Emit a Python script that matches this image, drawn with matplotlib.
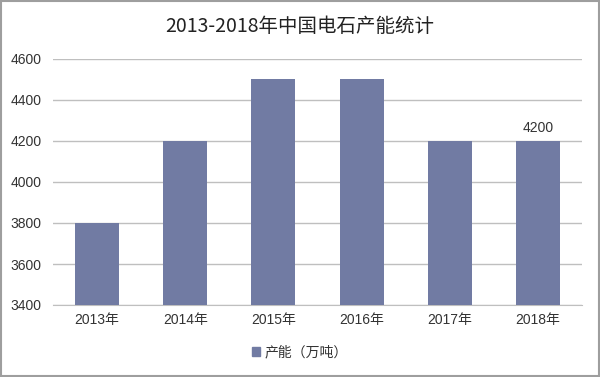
import matplotlib
matplotlib.use("Agg")
import matplotlib.pyplot as plt
from matplotlib.patches import Rectangle

plt.rcParams['font.family'] = ['Liberation Sans', 'Noto Sans CJK SC', 'DejaVu Sans']

categories = ["2013年", "2014年", "2015年", "2016年", "2017年", "2018年"]
values = [3800, 4200, 4500, 4500, 4200, 4200]
yticks = [3400, 3600, 3800, 4000, 4200, 4400, 4600]
title = "2013-2018年中国电石产能统计"
series_name = "产能（万吨）"

fig = plt.figure(figsize=(6, 3.77), dpi=100)
ax = fig.add_axes([53/600, 1-305/377, 529/600, (305-59)/377])

color = "#717BA3"
x = list(range(len(categories)))
bars = ax.bar(x, values, width=0.5, color=color, zorder=3, label=series_name)
ax.set_xlim(-0.5, len(categories)-0.5)
ax.set_ylim(3400, 4600)
ax.set_yticks(yticks)
ax.set_yticklabels([str(v) for v in yticks], fontsize=10, color="#333333")
ax.set_xticks(x)
ax.set_xticklabels(categories, fontsize=10, color="#333333")
ax.yaxis.grid(True, color="#BFBFBF", linewidth=1, zorder=0)
for s in ["top", "right", "left"]:
    ax.spines[s].set_visible(False)
ax.spines["bottom"].set_color("#BFBFBF")
ax.tick_params(axis="y", length=0, pad=8)
ax.tick_params(axis="x", length=0, pad=6)

ax.text(x[-1], values[-1] + 30, str(values[-1]), ha="center", va="bottom", fontsize=10, color="#333333")

fig.text(0.5, 1-27/377, title, ha="center", va="center", fontsize=14,
         family=['Noto Sans CJK SC', 'DejaVu Sans'], fontweight="medium", color="#222222")

leg = fig.legend(handles=[Rectangle((0, 0), 1, 1, color=color)], labels=[series_name],
                 loc="center", bbox_to_anchor=(0.5, 1-352/377), frameon=False, fontsize=10,
                 handlelength=0.6, handleheight=0.6, handletextpad=0.3)
for t in leg.get_texts():
    t.set_color("#333333")

fig.patches.append(Rectangle((0.002, 0.003), 0.996, 0.994, transform=fig.transFigure,
                             fill=False, edgecolor="#9E9E9E", linewidth=1.5))

fig.savefig("out.png", dpi=100)
